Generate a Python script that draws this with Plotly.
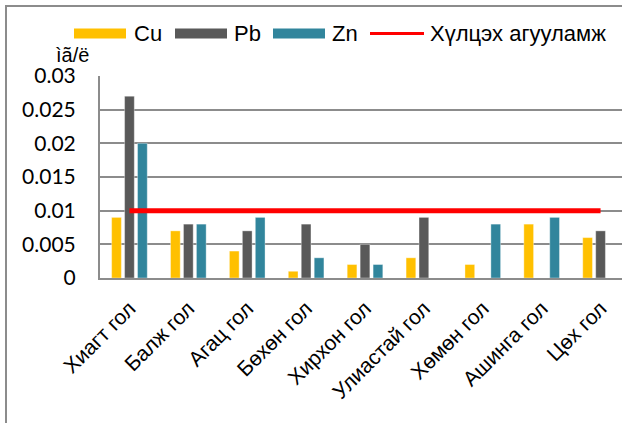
import plotly.graph_objects as go

categories = ["Хиагт гол", "Балж гол", "Агац гол", "Бөхөн гол", "Хирхон гол",
              "Улиастай гол", "Хөмөн гол", "Ашинга гол", "Цөх гол"]
cu = [0.009, 0.007, 0.004, 0.001, 0.002, 0.003, 0.002, 0.008, 0.006]
pb = [0.027, 0.008, 0.007, 0.008, 0.005, 0.009, None, None, 0.007]
zn = [0.020, 0.008, 0.009, 0.003, 0.002, None, 0.008, 0.009, None]
limit = [0.01] * len(categories)
y_ticks = [0, 0.005, 0.01, 0.015, 0.02, 0.025, 0.03]
y_tick_text = ["0", "0.005", "0.01", "0.015", "0.02", "0.025", "0.03"]

series = [("Cu", cu, "#FFC000"), ("Pb", pb, "#595959"), ("Zn", zn, "#31859C")]
limit_name = "Хүлцэх агууламж"
unit_label = "ìã/ë"

W, H = 622, 423
L, T, B = 100, 76, 278          # plot area in page pixels
PW = W - L
PH = B - T


def px(x):
    return (x - L) / PW


def py(y):
    return (B - y) / PH


fig = go.Figure()
for name, vals, col in series:
    fig.add_trace(go.Bar(x=categories, y=vals, name=name, marker_color=col,
                         marker_line_width=0.6, marker_line_color="rgba(255,255,255,0.6)",
                         showlegend=False))
fig.add_trace(go.Scatter(x=categories, y=limit, name=limit_name, mode="lines",
                         line=dict(color="#FF0000", width=5), showlegend=False))

shapes = []
annotations = []
# outer chart frame
shapes.append(dict(type="rect", xref="paper", yref="paper",
                   x0=px(6), x1=px(700), y0=py(6), y1=py(500),
                   line=dict(color="#8C8C8C", width=2), fillcolor="rgba(0,0,0,0)", layer="below"))

legend_font = dict(family="Liberation Sans, Arial", size=22, color="#000")
leg_y = 33.5
items = [(74, 126, "#FFC000", "Cu", "box", 132), (175, 227, "#595959", "Pb", "box", 232),
         (273, 325, "#31859C", "Zn", "box", 330), (370, 424, "#FF0000", limit_name, "line", 428)]
for x0, x1, col, txt, kind, tx in items:
    if kind == "box":
        shapes.append(dict(type="rect", xref="paper", yref="paper",
                           x0=px(x0), x1=px(x1), y0=py(leg_y + 5), y1=py(leg_y - 5),
                           fillcolor=col, line=dict(width=0)))
    else:
        shapes.append(dict(type="line", xref="paper", yref="paper",
                           x0=px(x0), x1=px(x1), y0=py(leg_y), y1=py(leg_y),
                           line=dict(color=col, width=3)))
    annotations.append(dict(text=txt, xref="paper", yref="paper", x=px(tx), y=py(leg_y),
                            xanchor="left", yanchor="middle", showarrow=False, font=legend_font))

annotations.append(dict(text=unit_label, xref="paper", yref="paper", x=px(91), y=py(55),
                        xanchor="right", yanchor="middle", showarrow=False,
                        font=dict(family="Liberation Sans, Arial", size=20, color="#000")))

fig.update_layout(
    width=W, height=H,
    margin=dict(l=L, r=0, t=T, b=H - B, pad=0),
    paper_bgcolor="white", plot_bgcolor="white",
    barmode="group", bargap=0.34, bargroupgap=0.25,
    shapes=shapes, annotations=annotations,
    showlegend=False,
)
fig.update_xaxes(range=[-0.5, -0.5 + 9 * PW / 530], showline=True, linecolor="#8C8C8C",
                 linewidth=2, showgrid=False, ticks="", tickangle=-45, ticklabelstandoff=8,
                 tickfont=dict(family="Liberation Sans, Arial", size=21, color="#000"))
fig.update_yaxes(range=[0, 0.03], tickvals=y_ticks, ticktext=y_tick_text,
                 showline=True, linecolor="#8C8C8C", linewidth=2,
                 showgrid=True, gridcolor="#8C8C8C", gridwidth=1.5, zeroline=False,
                 ticks="", ticklabelstandoff=18,
                 tickfont=dict(family="Lato, Liberation Sans", size=21, color="#000"))

fig.write_html("out.html", config={"displayModeBar": False},
               post_script="document.body.style.margin='0';document.body.style.overflow='hidden';")
